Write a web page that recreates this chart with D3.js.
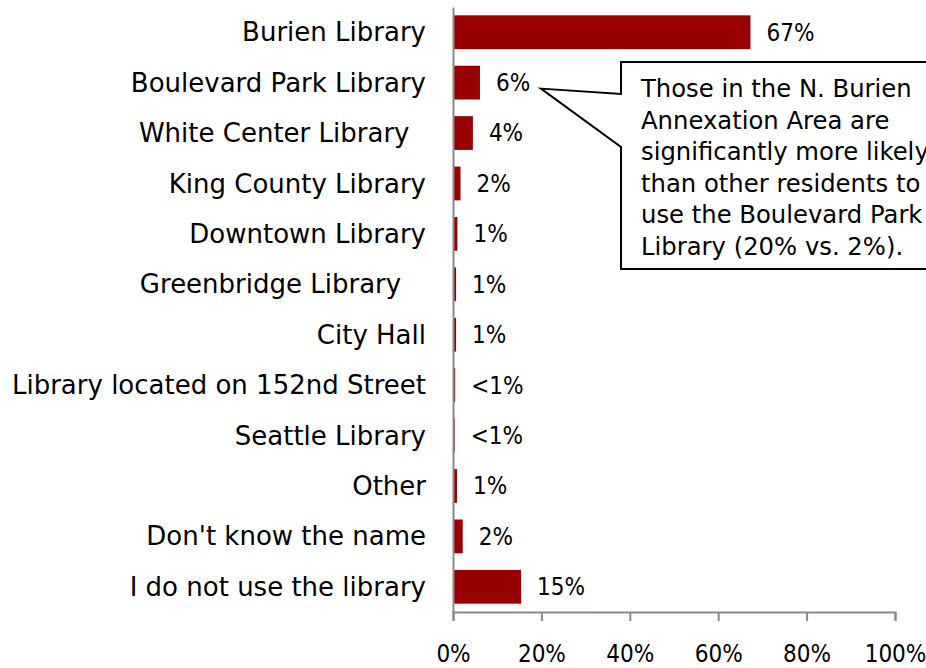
<!DOCTYPE html>
<html>
<head>
<meta charset="utf-8">
<script src="https://cdn.jsdelivr.net/npm/d3@7"></script>
<style>
  html, body { margin: 0; padding: 0; background: #fff; }
  svg { display: block; }
  text { fill: #000; white-space: pre; }
  .lbl { font-family: "DejaVu Sans", sans-serif; }
  .num { font-family: "DejaVu Sans Condensed", "DejaVu Sans", sans-serif; font-stretch: condensed; }
</style>
</head>
<body>
<svg id="chart" width="926" height="668"></svg>
<script>
const categories = [
  "Burien Library",
  "Boulevard Park Library",
  "White Center Library  ",
  "King County Library",
  "Downtown Library",
  "Greenbridge Library   ",
  "City Hall",
  "Library located on 152nd Street",
  "Seattle Library",
  "Other",
  "Don't know the name",
  "I do not use the library"
];
const values = [67.3, 6.1, 4.5, 1.7, 1.0, 0.7, 0.7, 0.5, 0.4, 0.9, 2.2, 15.4];
const valueLabels = ["67%", "6%", "4%", "2%", "1%", "1%", "1%", "<1%", "<1%", "1%", "2%", "15%"];
const tickValues = [0, 20, 40, 60, 80, 100];
const calloutLines = [
  "Those in the N. Burien",
  "Annexation Area are",
  "significantly more likely",
  "than other residents to",
  "use the Boulevard Park",
  "Library (20% vs. 2%)."
];

const svg = d3.select("#chart");
const x0 = 453, x1 = 895, yTop = 7, yBot = 612;

const x = d3.scaleLinear().domain([0, 100]).range([x0, x1]);
const y = d3.scaleBand().domain(categories).range([yTop, yBot]).paddingInner(0.33).paddingOuter(0.165);

// bars
svg.append("g").selectAll("rect").data(values).join("rect")
  .attr("x", x(0))
  .attr("y", (d, i) => y(categories[i]))
  .attr("width", d => x(d) - x(0))
  .attr("height", y.bandwidth())
  .attr("fill", "#990000");

// value labels
svg.append("g").selectAll("text").data(values).join("text")
  .attr("class", "num")
  .attr("x", d => x(d) + 16)
  .attr("y", (d, i) => y(categories[i]) + y.bandwidth() / 2)
  .attr("dy", "0.35em")
  .attr("font-size", 24)
  .text((d, i) => valueLabels[i]);

// y axis
const yAxis = svg.append("g").attr("transform", `translate(${x0},0)`)
  .call(d3.axisLeft(y).tickSize(0).tickSizeOuter(0).tickPadding(27));
yAxis.attr("font-family", null).attr("font-size", null);
yAxis.select(".domain").attr("stroke", "#8a8a8a").attr("stroke-width", 2);
yAxis.selectAll(".tick text").attr("class", "lbl").attr("font-size", 26).attr("fill", "#000").attr("dy", "0.35em");

// x axis
const xAxis = svg.append("g").attr("transform", `translate(0,${yBot})`)
  .call(d3.axisBottom(x).tickValues(tickValues).tickFormat(d => d + "%").tickSize(9).tickPadding(24));
xAxis.attr("font-family", null).attr("font-size", null);
xAxis.select(".domain").attr("stroke", "#8a8a8a").attr("stroke-width", 2);
xAxis.selectAll(".tick line").attr("stroke", "#8a8a8a").attr("stroke-width", 2);
xAxis.selectAll(".tick text").attr("class", "num").attr("font-size", 24).attr("fill", "#000");

// callout
const tipX = x(values[1]) + 61;
const tipY = y(categories[1]) + y.bandwidth() / 2 + 6;
const bx = 621, by = 62, bw = 330, bh = 207;
const callPath = d3.path();
callPath.moveTo(bx, by);
callPath.lineTo(bx + bw, by);
callPath.lineTo(bx + bw, by + bh);
callPath.lineTo(bx, by + bh);
callPath.lineTo(bx, 147);
callPath.lineTo(tipX, tipY);
callPath.lineTo(bx, 94);
callPath.closePath();
svg.append("path").attr("d", callPath.toString())
  .attr("fill", "#fff").attr("stroke", "#000").attr("stroke-width", 2).attr("stroke-linejoin", "miter");

svg.append("g").selectAll("text").data(calloutLines).join("text")
  .attr("class", "lbl")
  .attr("x", 641)
  .attr("y", (d, i) => 97 + i * 31.5)
  .attr("font-size", 24.3)
  .text(d => d);
</script>
</body>
</html>
